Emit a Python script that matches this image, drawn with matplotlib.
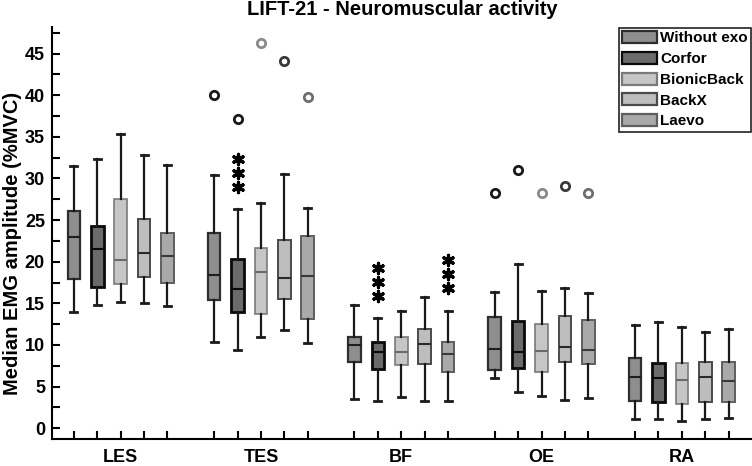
import matplotlib
matplotlib.use("Agg")
import matplotlib.pyplot as plt
from matplotlib.patches import Patch
import numpy as np

plt.rcParams["font.family"] = ["Liberation Sans", "DejaVu Sans"]
plt.rcParams["font.weight"] = "bold"

# ===== DATA (rows = muscle, cols = device) =====
muscles = ["LES", "TES", "BF", "OE", "RA"]
devices = ["Without exo", "Corfor", "BionicBack", "BackX", "Laevo"]

whishi = [
    [31.5, 32.3, 35.4, 32.8, 31.6],
    [30.4, 26.3, 27.1, 30.5, 26.4],
    [14.8, 13.2, 14.1, 15.7, 14.1],
    [16.4, 19.7, 16.5, 16.8, 16.3],
    [12.4, 12.8, 12.1, 11.5, 11.9],
]
q3 = [
    [26.1, 24.3, 27.5, 25.1, 23.4],
    [23.5, 20.3, 21.7, 22.6, 23.1],
    [11.0, 10.3, 10.9, 11.9, 10.3],
    [13.3, 12.9, 12.5, 13.5, 13.0],
    [8.4, 7.8, 7.8, 7.9, 7.9],
]
medians = [
    [23.0, 21.5, 20.2, 21.0, 20.7],
    [18.4, 16.7, 18.8, 18.1, 18.3],
    [10.0, 9.2, 9.1, 10.1, 8.9],
    [9.5, 9.1, 9.3, 9.7, 9.4],
    [6.1, 6.0, 5.8, 6.1, 5.7],
]
q1 = [
    [17.9, 17.0, 17.3, 18.2, 17.5],
    [15.4, 13.9, 13.7, 15.5, 13.1],
    [7.9, 7.1, 7.6, 7.7, 6.7],
    [7.0, 7.2, 6.8, 7.9, 7.7],
    [3.3, 3.1, 2.9, 3.2, 3.2],
]
whislo = [
    [13.9, 14.8, 15.2, 15.0, 14.7],
    [10.3, 9.4, 10.9, 11.8, 10.2],
    [3.5, 3.3, 3.7, 3.3, 3.3],
    [6.0, 4.4, 3.9, 3.4, 3.6],
    [1.1, 1.1, 0.9, 1.1, 1.2],
]
outliers = [
    [[], [], [], [], []],
    [[40.0], [37.1], [46.3], [44.1], [39.8]],
    [[], [], [], [], []],
    [[28.3], [31.0], [28.3], [29.1], [28.2]],
    [[], [], [], [], []],
]
# (muscle index, device index) with *** significance
significant = [(1, 1), (2, 1), (2, 4)]

# ===== STYLE =====
face_colors = ["#8e8e8e", "#6b6b6b", "#c6c6c6", "#bdbdbd", "#a9a9a9"]
edge_colors = ["#2e2e2e", "#0a0a0a", "#7a7a7a", "#4a4a4a", "#5e5e5e"]
median_colors = ["#1e1e1e", "#0a0a0a", "#6a6a6a", "#2a2a2a", "#3a3a3a"]
flier_colors = ["#1a1a1a", "#1a1a1a", "#8a8a8a", "#3a3a3a", "#6e6e6e"]
edge_widths = [1.6, 2.0, 1.2, 1.4, 1.4]

fig = plt.figure(figsize=(7.52, 4.66), dpi=100)
ax = fig.add_axes([0.069, 0.058, 0.931, 0.884])

group_step = 6
for m in range(len(muscles)):
    for d in range(len(devices)):
        pos = m * group_step + d + 1
        stats = [{
            "med": medians[m][d],
            "q1": q1[m][d],
            "q3": q3[m][d],
            "whislo": whislo[m][d],
            "whishi": whishi[m][d],
            "fliers": outliers[m][d],
        }]
        ax.bxp(
            stats,
            positions=[pos],
            widths=0.54,
            capwidths=0.3,
            patch_artist=True,
            boxprops=dict(facecolor=face_colors[d], edgecolor=edge_colors[d],
                          linewidth=edge_widths[d]),
            medianprops=dict(color=median_colors[d], linewidth=1.5),
            whiskerprops=dict(color="#1a1a1a", linewidth=1.6),
            capprops=dict(color="#1a1a1a", linewidth=2.0),
            flierprops=dict(marker="o", markerfacecolor="none",
                            markeredgecolor=flier_colors[d], markersize=6,
                            markeredgewidth=2.0),
            manage_ticks=False,
        )

# significance stars above the upper whisker
for m, d in significant:
    pos = m * group_step + d + 1
    base = whishi[m][d] + 2.7
    ax.scatter([pos] * 3, [base, base + 1.7, base + 3.4], marker=(6, 2, 0),
               s=55, color="black", linewidths=2.3, zorder=5)

# ===== AXES =====
ax.set_xlim(0.06, 30)
ax.set_ylim(-1.3, 48.2)
ax.spines["top"].set_visible(False)
ax.spines["right"].set_visible(False)
ax.spines["left"].set_linewidth(1.5)
ax.spines["bottom"].set_linewidth(1.5)

ax.set_yticks(np.arange(0, 46, 5))
ax.set_yticks(np.arange(2.5, 48, 5), minor=True)
ax.tick_params(axis="y", which="both", direction="in", length=6, width=1.5,
               labelsize=13, pad=5)

group_centers = [m * group_step + 3 for m in range(len(muscles))]
all_positions = [m * group_step + d + 1 for m in range(len(muscles))
                 for d in range(len(devices))]
ax.set_xticks(group_centers)
ax.set_xticklabels(muscles)
ax.set_xticks([p for p in all_positions if p not in group_centers], minor=True)
ax.tick_params(axis="x", which="both", direction="in", length=6, width=1.5,
               labelsize=13, pad=7)
for lbl in ax.get_xticklabels() + ax.get_yticklabels():
    lbl.set_fontweight("bold")

ax.set_ylabel("Median EMG amplitude (%MVC)", fontsize=14.5, fontweight="bold")
ax.yaxis.set_label_coords(-0.043, 0.475)
ax.set_title("LIFT-21 - Neuromuscular activity", fontsize=14.5,
             fontweight="bold", pad=9)

handles = [Patch(facecolor=face_colors[i], edgecolor=edge_colors[i],
                 linewidth=1.6, label=devices[i]) for i in range(len(devices))]
leg = ax.legend(handles=handles, loc="upper right", bbox_to_anchor=(0.9985, 0.998),
                fontsize=11, frameon=True, fancybox=False, handlelength=2.3,
                handleheight=0.85, handletextpad=0.2, labelspacing=0.42,
                borderpad=0.2, borderaxespad=0.0)
leg.get_frame().set_edgecolor("black")
leg.get_frame().set_linewidth(1.3)
for t in leg.get_texts():
    t.set_fontweight("bold")

fig.savefig("out.png", dpi=100)
